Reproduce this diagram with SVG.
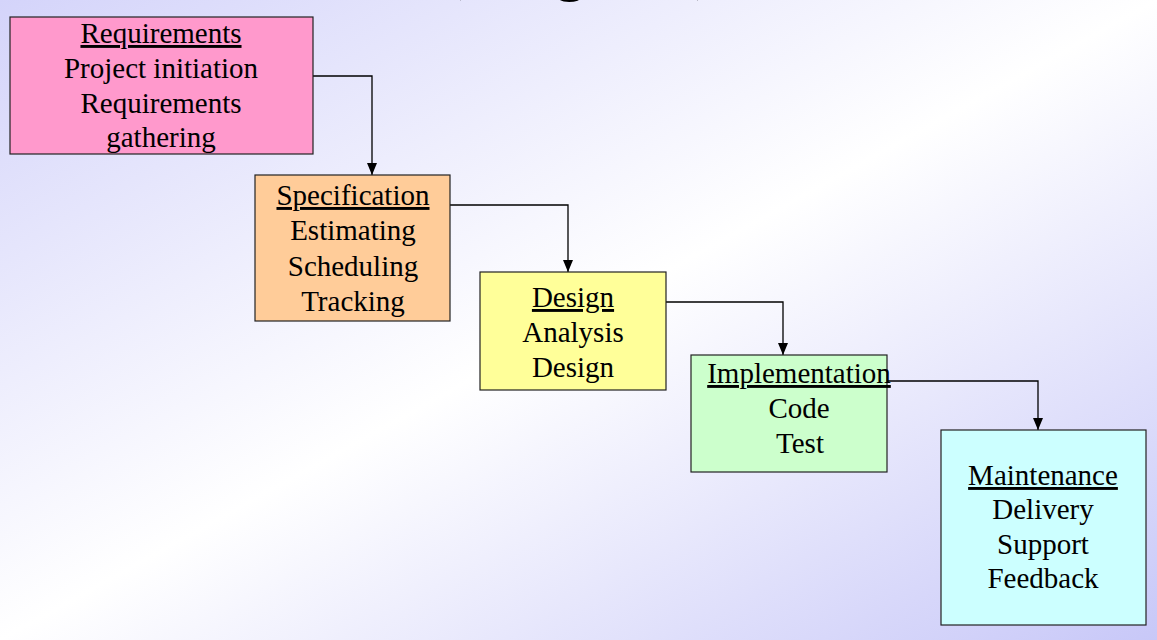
<svg xmlns="http://www.w3.org/2000/svg" width="1157" height="640" viewBox="0 0 1157 640">
  <defs>
    <linearGradient id="bg" x1="0" y1="0" x2="1" y2="1">
      <stop offset="0" stop-color="#d4d4fa"/>
      <stop offset="0.5" stop-color="#ffffff"/>
      <stop offset="1" stop-color="#c8c8f8"/>
    </linearGradient>
    <marker id="arr" viewBox="0 0 12 10" refX="12" refY="5" markerWidth="12" markerHeight="10" markerUnits="userSpaceOnUse" orient="auto">
      <path d="M0,0 L12,5 L0,10 z" fill="#000"/>
    </marker>
  </defs>
  <style>
    .box { stroke: #222; stroke-width: 1.2; }
    .t { font-family: "Liberation Serif", "Times New Roman", serif; font-size: 29px; fill: #000; text-anchor: middle; }
    .h { text-decoration: underline; }
    .title { font-family: "Liberation Serif", "Times New Roman", serif; font-size: 64px; fill: #000; text-anchor: middle; }
    .conn { fill: none; stroke: #000; stroke-width: 1.3; }
  </style>
  <rect x="0" y="0" width="1157" height="640" fill="url(#bg)"/>

  <g id="title-fragments">
    <text class="title" x="452" y="-13">(</text>
    <text class="title" x="570" y="-12">g</text>
    <text class="title" x="706" y="-13">)</text>
  </g>

  <g id="connectors">
    <path class="conn" d="M313,76 H372 V175" marker-end="url(#arr)"/>
    <path class="conn" d="M450,205 H568 V272" marker-end="url(#arr)"/>
    <path class="conn" d="M666,302 H783 V355" marker-end="url(#arr)"/>
    <path class="conn" d="M887,381 H1038 V430" marker-end="url(#arr)"/>
  </g>

  <g id="requirements">
    <rect class="box" x="10" y="17" width="303" height="137" fill="#ff99cc"/>
    <text class="t h" x="161" y="43">Requirements</text>
    <text class="t" x="161" y="78">Project initiation</text>
    <text class="t" x="161" y="113">Requirements</text>
    <text class="t" x="161" y="147">gathering</text>
  </g>

  <g id="specification">
    <rect class="box" x="255" y="175" width="195" height="146" fill="#ffcc99"/>
    <text class="t h" x="353" y="205">Specification</text>
    <text class="t" x="353" y="240">Estimating</text>
    <text class="t" x="353" y="276">Scheduling</text>
    <text class="t" x="353" y="311">Tracking</text>
  </g>

  <g id="design">
    <rect class="box" x="480" y="272" width="186" height="118" fill="#ffff99"/>
    <text class="t h" x="573" y="307">Design</text>
    <text class="t" x="573" y="342">Analysis</text>
    <text class="t" x="573" y="377">Design</text>
  </g>

  <g id="implementation">
    <rect class="box" x="691" y="355" width="196" height="117" fill="#ccffcc"/>
    <text class="t h" x="799" y="383">Implementation</text>
    <text class="t" x="799" y="418">Code</text>
    <text class="t" x="800" y="453">Test</text>
  </g>

  <g id="maintenance">
    <rect class="box" x="941" y="430" width="205" height="195" fill="#ccffff"/>
    <text class="t h" x="1043" y="485">Maintenance</text>
    <text class="t" x="1043" y="519">Delivery</text>
    <text class="t" x="1043" y="554">Support</text>
    <text class="t" x="1043" y="588">Feedback</text>
  </g>
</svg>
